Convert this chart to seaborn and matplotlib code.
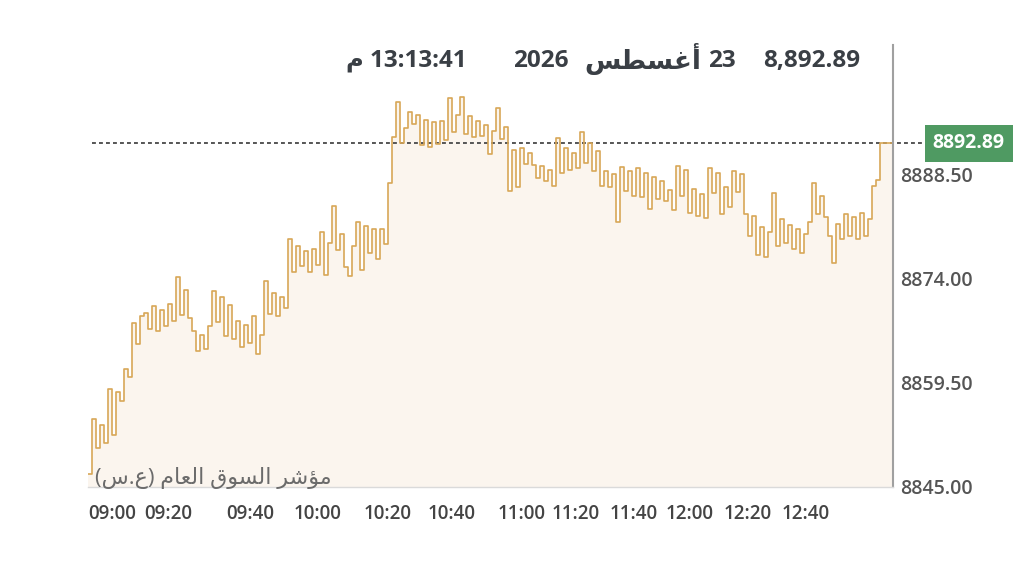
import numpy as np
import pandas as pd
import matplotlib
matplotlib.use('Agg')
import matplotlib.pyplot as plt
import matplotlib.transforms as mtransforms
import seaborn as sns

# price index readings, one value per trade step, split by session chunk
seg_0900 = [8846.8, 8854.5, 8850.4, 8853.6, 8851.2, 8858.6,
            8852.2, 8858.2, 8857.0, 8861.5, 8860.4,
            8867.8, 8864.9, 8868.9,
            8869.3, 8867.0, 8870.2, 8866.8, 8869.7, 8867.4, 8870.5, 8868.1]
seg_0940 = [8874.2, 8869.0, 8872.4, 8868.5,
            8866.8, 8863.9, 8866.2, 8864.3, 8867.5,
            8872.3, 8868.0, 8871.5,
            8866.0, 8870.4, 8865.6,
            8868.2, 8864.5, 8867.6, 8865.0, 8868.9, 8863.6, 8866.2,
            8873.7, 8869.1, 8872.0, 8868.8, 8871.5, 8870.0]
seg_1000 = [8879.6, 8875.0, 8878.6, 8875.8, 8877.9, 8874.9, 8878.2,
            8876.0, 8880.6, 8874.5, 8879.0,
            8884.2, 8878.0, 8880.2, 8875.6,
            8874.4, 8878.6, 8882.0,
            8875.2, 8881.4, 8877.6, 8880.9,
            8876.8, 8881.0, 8878.8]
seg_1020 = [8887.3, 8893.8, 8898.6, 8893.0, 8895.0,
            8897.2, 8895.6, 8896.8,
            8892.6, 8896.2, 8892.4, 8895.8, 8892.8,
            8896.0, 8893.4, 8899.2, 8894.5, 8896.8, 8899.4,
            8894.2, 8896.7, 8893.8, 8896.0, 8893.9,
            8895.4, 8891.4, 8894.6, 8897.8, 8893.5, 8895.2]
seg_1100 = [8886.2, 8891.9, 8886.8,
            8892.2, 8890.0, 8891.6, 8889.9,
            8888.0, 8889.8, 8887.6, 8889.2, 8887.0,
            8893.7, 8888.8, 8892.2, 8889.2, 8891.6, 8889.5,
            8894.5, 8890.2, 8893.0, 8889.0, 8891.8,
            8887.0, 8889.0, 8886.8, 8888.6, 8882.0,
            8889.6, 8886.2, 8889.0]
seg_1140 = [8885.6, 8889.5, 8885.4, 8888.8, 8883.7, 8888.2, 8885.2, 8887.6,
            8884.8, 8886.4, 8883.6,
            8889.7, 8885.6, 8889.2,
            8883.2, 8886.6, 8882.7, 8885.8, 8882.5,
            8889.5, 8886.0, 8888.8,
            8883.1, 8886.8, 8884.0,
            8889.0, 8886.1, 8888.6,
            8883.0, 8880.0, 8882.8,
            8877.4, 8881.2, 8877.0, 8880.6]
seg_1240 = [8886.0, 8878.6, 8882.4, 8879.0, 8881.5,
            8878.2, 8881.0, 8877.6, 8880.2, 8882.0,
            8887.4, 8883.0, 8885.6, 8882.6,
            8880.0, 8876.2, 8881.6,
            8879.6, 8883.0, 8880.0, 8882.6, 8879.6,
            8883.2, 8880.0, 8882.4, 8887.0, 8887.8,
            8892.89, 8892.89, 8892.89, 8892.89]

last_price = 8892.89
y_ticks = [8845.00, 8859.50, 8874.00, 8888.50]
time_labels = ['09:00', '09:20', '09:40', '10:00', '10:20', '10:40',
               '11:00', '11:20', '11:40', '12:00', '12:20', '12:40']
time_pos = [6, 20, 40.5, 57.5, 75, 91, 108.5, 122, 136.5, 150.5, 165, 179.5]

header_price = '8,892.89'
header_day = '23'
header_month = 'أغسطس'
header_year = '2026'
header_time = '13:13:41'
header_pm = 'م'
index_name = 'مؤشر السوق العام (ع.س)'

# matplotlib has no arabic shaping, so pick presentation forms by hand
# (isolated, final, initial, medial); None = letter does not join forward
FORMS = {
    'ا': ('\uFE8D', '\uFE8E', None, None),
    'أ': ('\uFE83', '\uFE84', None, None),
    'ؤ': ('\uFE85', '\uFE86', None, None),
    'ر': ('\uFEAD', '\uFEAE', None, None),
    'و': ('\uFEED', '\uFEEE', None, None),
    'غ': ('\uFECD', '\uFECE', '\uFECF', '\uFED0'),
    'ع': ('\uFEC9', '\uFECA', '\uFECB', '\uFECC'),
    'س': ('\uFEB1', '\uFEB2', '\uFEB3', '\uFEB4'),
    'ش': ('\uFEB5', '\uFEB6', '\uFEB7', '\uFEB8'),
    'ط': ('\uFEC1', '\uFEC2', '\uFEC3', '\uFEC4'),
    'م': ('\uFEE1', '\uFEE2', '\uFEE3', '\uFEE4'),
    'ل': ('\uFEDD', '\uFEDE', '\uFEDF', '\uFEE0'),
    'ق': ('\uFED5', '\uFED6', '\uFED7', '\uFED8'),
}
MIRROR = {'(': ')', ')': '('}


def arabic(text):
    out = []
    for i, ch in enumerate(text):
        if ch not in FORMS:
            out.append(MIRROR.get(ch, ch))
            continue
        prev = text[i - 1] if i > 0 else ''
        nxt = text[i + 1] if i + 1 < len(text) else ''
        join_prev = prev in FORMS and FORMS[prev][2] is not None
        join_next = nxt in FORMS and FORMS[ch][2] is not None
        iso, fin, ini, med = FORMS[ch]
        if join_prev and join_next:
            out.append(med)
        elif join_prev:
            out.append(fin)
        elif join_next:
            out.append(ini)
        else:
            out.append(iso)
    return ''.join(reversed(out))


prices = seg_0900 + seg_0940 + seg_1000 + seg_1020 + seg_1100 + seg_1140 + seg_1240
df = pd.DataFrame({'step': np.arange(len(prices)), 'price': prices})

sns.set_style('white')
plt.rcParams['font.family'] = ['Open Sans', 'DejaVu Sans']

fig = plt.figure(figsize=(10.24, 5.66), dpi=100)
ax = fig.add_axes([88 / 1024, 1 - 487 / 566, (893 - 88) / 1024, (487 - 45) / 566])

line_col = '#D8A757'
ax.fill_between(df['step'], df['price'], 8845, step='post', color='#FBF5EE', lw=0)
sns.lineplot(data=df, x='step', y='price', ax=ax, color=line_col, lw=1.2,
             drawstyle='steps-post')

ax.set_xlim(0, len(prices) - 0.75)
ax.set_ylim(8845, 8906.6)
ax.set_xlabel('')
ax.set_ylabel('')

ax.yaxis.tick_right()
ax.set_yticks(y_ticks)
ax.set_yticklabels([f'{v:.2f}' for v in y_ticks])
ax.set_xticks(time_pos)
ax.set_xticklabels(time_labels)
ax.tick_params(axis='y', length=0, pad=5, labelsize=14, labelcolor='#555555')
ax.tick_params(axis='x', length=0, pad=12, labelsize=13.5, labelcolor='#444444')
for lab in ax.get_xticklabels() + ax.get_yticklabels():
    lab.set_fontweight('semibold')

for side in ['top', 'left']:
    ax.spines[side].set_visible(False)
ax.spines['right'].set_color('#A0A0A0')
ax.spines['right'].set_linewidth(1.5)
ax.spines['bottom'].set_color('#DADADA')
ax.spines['bottom'].set_linewidth(1)

# last price guide and badge
trans = mtransforms.blended_transform_factory(ax.transAxes, ax.transData)
ax.plot([0.005, 1.036], [last_price, last_price], transform=trans, clip_on=False,
        color='#555555', lw=1.4, ls=(0, (2, 1.6)), zorder=1)
ax.text(1.094, last_price, f'{last_price:.2f}', transform=trans, ha='center', va='center',
        fontsize=14, fontweight='bold', color='white',
        bbox=dict(boxstyle='square,pad=0.42', fc='#4F9A62', ec='none'))

# header line, pieces laid out right to left
hdr_col = '#3A3F45'
hy = 1 - 61 / 566
fig.text(860 / 1024, hy, header_price, ha='right', va='center',
         fontsize=17.5, fontweight='bold', color=hdr_col)
fig.text(736 / 1024, hy, header_day, ha='right', va='center',
         fontsize=17.5, fontweight='bold', color=hdr_col)
fig.text(701 / 1024, hy + 0.003, arabic(header_month), ha='right', va='center',
         fontsize=19, fontweight='bold', color=hdr_col)
fig.text(569 / 1024, hy, header_year, ha='right', va='center',
         fontsize=17.5, fontweight='bold', color=hdr_col)
fig.text(467 / 1024, hy, f'{arabic(header_pm)} {header_time}', ha='right',
         va='center', fontsize=17.5, fontweight='bold', color=hdr_col)

fig.text(332 / 1024, 1 - 478 / 566, arabic(index_name), ha='right', va='center',
         fontsize=16, color='#6B6B6B')

fig.savefig('out.png', dpi=100, facecolor='white')
